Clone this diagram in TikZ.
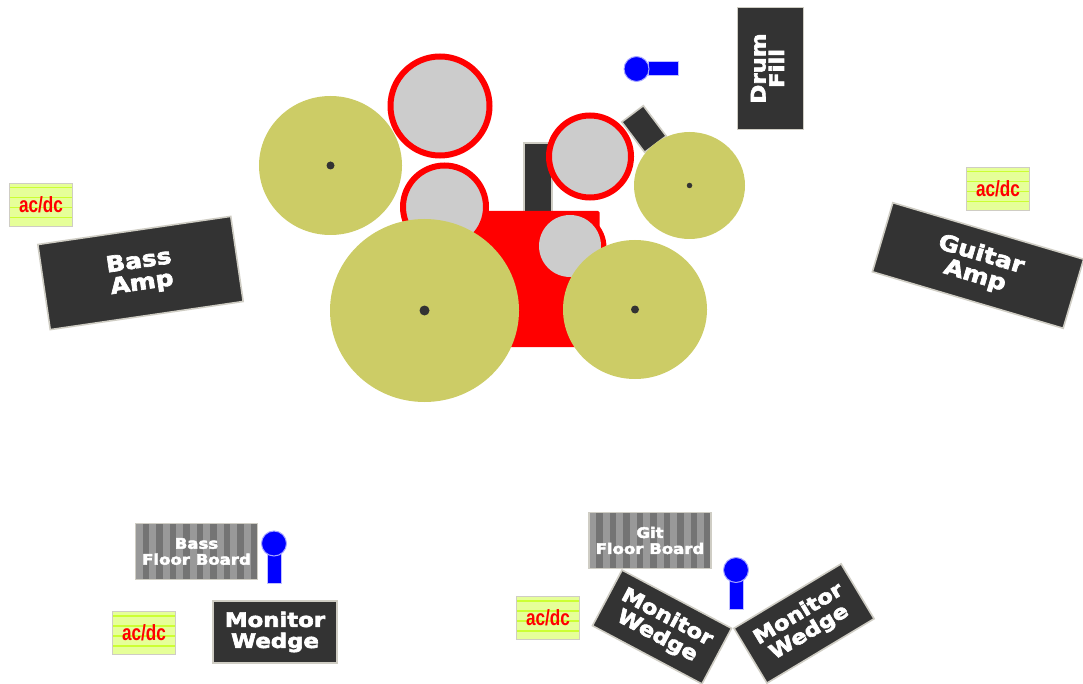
\documentclass[tikz,border=0pt]{standalone}
\usepackage{fontspec}
\setmainfont{DejaVu Sans}
\newfontfamily\heavyfont[FakeBold=3,FakeStretch=1.14]{DejaVu Sans Bold}
\newfontfamily\acfont[FakeStretch=0.78]{Liberation Sans Bold}
\usetikzlibrary{shapes.geometric}
\definecolor{darkbox}{HTML}{333333}
\definecolor{edgegrey}{HTML}{CFCDC4}
\definecolor{cymbal}{HTML}{CCCC66}
\definecolor{head}{HTML}{CCCCCC}
\definecolor{stripeA}{HTML}{747474}
\definecolor{stripeB}{HTML}{999999}
\definecolor{acfill}{HTML}{E6FF99}
\definecolor{acline}{HTML}{CCFF33}
\tikzset{
  x=1pt,y=-1pt,
  gear/.style={draw=edgegrey,line width=1.6pt,fill=darkbox,text=white,align=center,inner sep=0pt,
     font=\heavyfont\fontsize{20}{21}\selectfont},
  ampbox/.style={gear,font=\heavyfont\fontsize{22}{22}\selectfont},
  floorboard/.style={draw=edgegrey,line width=1.6pt,fill=stripeB,text=white,align=center,inner sep=0pt,
     minimum width=122pt,minimum height=56pt,font=\heavyfont\fontsize{14.5}{16}\selectfont,
     path picture={\foreach \i in {0,...,8}{
        \fill[stripeA] ([xshift={\i*13.5pt+7pt}]path picture bounding box.south west) rectangle ++(6.7pt,60pt);}}},
  acbox/.style={draw=edgegrey,line width=1pt,fill=acfill,minimum width=63pt,minimum height=43pt,inner sep=0pt,
     text=red,font=\acfont\fontsize{22}{22}\selectfont,
     path picture={\foreach \i in {0,...,3}{
        \fill[acline] ([yshift={\i*10pt+8pt}]path picture bounding box.south west) rectangle ++(66pt,1.6pt);}}},
  cym/.style={ellipse,fill=cymbal,inner sep=0pt},
  pin/.style={circle,fill=darkbox,inner sep=0pt},
  drumhead/.style={circle,draw=red,line width=6pt,fill=head,inner sep=0pt},
  miccap/.style={circle,draw=blue!35,line width=1pt,fill=blue,minimum size=25pt,inner sep=0pt},
  micstem/.style={draw=blue!25,line width=1pt,fill=blue,inner sep=0pt},
}
\begin{document}
\begin{tikzpicture}
\useasboundingbox (0,0) rectangle (1083,684);
% amps
\node[ampbox,minimum width=195pt,minimum height=86pt,rotate=8.3] (bassamp) at (140.5,273) {Bass\\Amp};
\node[ampbox,minimum width=199pt,minimum height=72pt,rotate=-16.5] (guitaramp) at (978,265.5) {Guitar\\Amp};
\node[gear,minimum width=66pt,minimum height=122pt] (drumfill) at (770.5,68.5) {\rotatebox{90}{\begin{tabular}{@{}c@{}}Drum\\[-3pt]Fill\end{tabular}}};
% throne and hardware
\node[gear,minimum width=28pt,minimum height=74pt] (throne) at (538,180) {};
\node[gear,minimum width=38pt,minimum height=27pt,rotate=-53] (stool) at (644,129) {};
% drums
\node[drumhead,minimum size=99pt] (tomA) at (440,106) {};
\node[fill=red,minimum width=125.5pt,minimum height=136pt,rounded corners=1.5pt,inner sep=0pt] (kick) at (536.75,279) {};
\node[circle,fill=red,minimum size=72pt,inner sep=0pt] (kickrim) at (570.5,247.5) {};
\node[circle,fill=head,minimum size=62pt,inner sep=0pt] (kickhead) at (570,246) {};
\node[drumhead,minimum size=83pt] (snare) at (444.5,207) {};
\node[drumhead,minimum size=82pt] (tomB) at (590,156.5) {};
% cymbals
\node[cym,minimum width=143pt,minimum height=139pt] (cymA) at (330.5,165.5) {};
\node[pin,minimum size=8pt] at (cymA) {};
\node[cym,minimum width=189pt,minimum height=183pt] (cymB) at (424.5,310.5) {};
\node[pin,minimum size=10pt] at (cymB) {};
\node[cym,minimum width=144pt,minimum height=139pt] (cymC) at (635,309.5) {};
\node[pin,minimum size=8pt] at (cymC) {};
\node[cym,minimum width=111pt,minimum height=107pt] (cymD) at (689.5,185.5) {};
\node[pin,minimum size=5.5pt] at (cymD) {};
% mics
\node[micstem,minimum width=30pt,minimum height=14pt] (stemA) at (663,69) {};
\node[miccap] (capA) at (636.5,69) {};
\node[micstem,minimum width=14pt,minimum height=30pt] (stemB) at (274,568) {};
\node[miccap] (capB) at (274,543.5) {};
\node[micstem,minimum width=14pt,minimum height=30pt] (stemC) at (736,594) {};
\node[miccap] (capC) at (736,570) {};
% floor boards and wedges
\node[floorboard] (bassboard) at (196.5,551.5) {Bass\\Floor Board};
\node[floorboard] (gitboard) at (650,540.5) {Git\\Floor Board};
\node[gear,minimum width=124pt,minimum height=62pt] (wedgeA) at (275,632) {Monitor\\Wedge};
\node[gear,minimum width=124pt,minimum height=63pt,rotate=-28] (wedgeB) at (662,627) {Monitor\\Wedge};
\node[gear,minimum width=125pt,minimum height=64pt,rotate=31] (wedgeC) at (804,623.5) {Monitor\\Wedge};
% power
\node[acbox] (acA) at (41,205) {ac/dc};
\node[acbox] (acB) at (998,189) {ac/dc};
\node[acbox] (acC) at (144,633) {ac/dc};
\node[acbox] (acD) at (548,618) {ac/dc};
\end{tikzpicture}
\end{document}
